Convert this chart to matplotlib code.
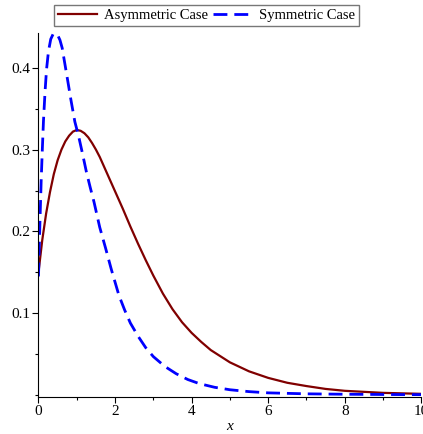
import numpy as np
import matplotlib.pyplot as plt
from matplotlib.ticker import MultipleLocator

# values
x_asym = [0.0, 0.1, 0.2, 0.3, 0.4, 0.5, 0.6, 0.7, 0.8, 0.9, 1.0, 1.1, 1.2, 1.3,
          1.4, 1.5, 1.6, 1.8, 2.0, 2.2, 2.4, 2.6, 2.8, 3.0, 3.25, 3.5, 3.75,
          4.0, 4.25, 4.5, 5.0, 5.5, 6.0, 6.5, 7.0, 7.5, 8.0, 9.0, 10.0]
y_asym = [0.150, 0.190, 0.222, 0.248, 0.270, 0.287, 0.300, 0.310, 0.317, 0.322,
          0.324, 0.323, 0.320, 0.315, 0.308, 0.300, 0.291, 0.270, 0.249, 0.228,
          0.206, 0.185, 0.165, 0.146, 0.124, 0.105, 0.089, 0.076, 0.065, 0.055,
          0.040, 0.029, 0.021, 0.015, 0.011, 0.0075, 0.0052, 0.0027, 0.0015]

x_sym = [0.0, 0.02, 0.04, 0.07, 0.1, 0.13, 0.17, 0.21, 0.26, 0.32, 0.38, 0.44,
         0.5, 0.56, 0.62, 0.67, 0.75, 0.85, 0.95, 1.05, 1.15, 1.25, 1.35, 1.45,
         1.6, 1.75, 1.9, 2.0, 2.1, 2.25, 2.4, 2.6, 2.8, 3.0, 3.3, 3.6, 3.9,
         4.2, 4.6, 5.0, 5.5, 6.0, 7.0, 8.0, 9.0, 10.0]
y_sym = [0.145, 0.180, 0.215, 0.262, 0.300, 0.335, 0.370, 0.398, 0.420, 0.435,
         0.441, 0.442, 0.440, 0.434, 0.424, 0.410, 0.388, 0.360, 0.334, 0.316,
         0.295, 0.273, 0.254, 0.236, 0.205, 0.180, 0.154, 0.138, 0.122, 0.104,
         0.088, 0.072, 0.058, 0.047, 0.035, 0.026, 0.019, 0.014, 0.0095, 0.0065,
         0.0042, 0.0027, 0.0015, 0.001, 0.0007, 0.0005]

plt.rcParams['font.family'] = ['Liberation Serif', 'DejaVu Serif']

fig = plt.figure(figsize=(4.23, 4.34), dpi=100)
ax = fig.add_axes([0.091, 0.085, 0.905, 0.838])

ax.plot(x_asym, y_asym, color='#800000', lw=1.6, label='Asymmetric Case')
ax.plot(x_sym, y_sym, color='#0000FF', lw=2.0, dashes=(5, 2.5), label='Symmetric Case')

ax.set_xlim(0, 10)
ax.set_ylim(-0.0025, 0.442)
ax.set_xticks([0, 2, 4, 6, 8, 10])
ax.set_yticks([0.1, 0.2, 0.3, 0.4])
ax.set_yticklabels(['0.1', '0.2', '0.3', '0.4'])
ax.xaxis.set_minor_locator(MultipleLocator(1))
ax.yaxis.set_minor_locator(MultipleLocator(0.05))
ax.tick_params(which='major', length=4, width=0.8, labelsize=11, pad=2)
ax.tick_params(which='minor', length=2.5, width=0.8)
ax.spines['top'].set_visible(False)
ax.spines['right'].set_visible(False)
ax.set_xlabel('x', fontstyle='italic', fontsize=11, labelpad=1)

fig.legend(loc='upper center', bbox_to_anchor=(0.488, 0.988), ncol=2,
           fontsize=10.5, frameon=True, fancybox=False, edgecolor='#555555',
           handlelength=2.7, columnspacing=0.35, handletextpad=0.45,
           borderpad=0.25, borderaxespad=0)

fig.savefig('out.png', dpi=100)
